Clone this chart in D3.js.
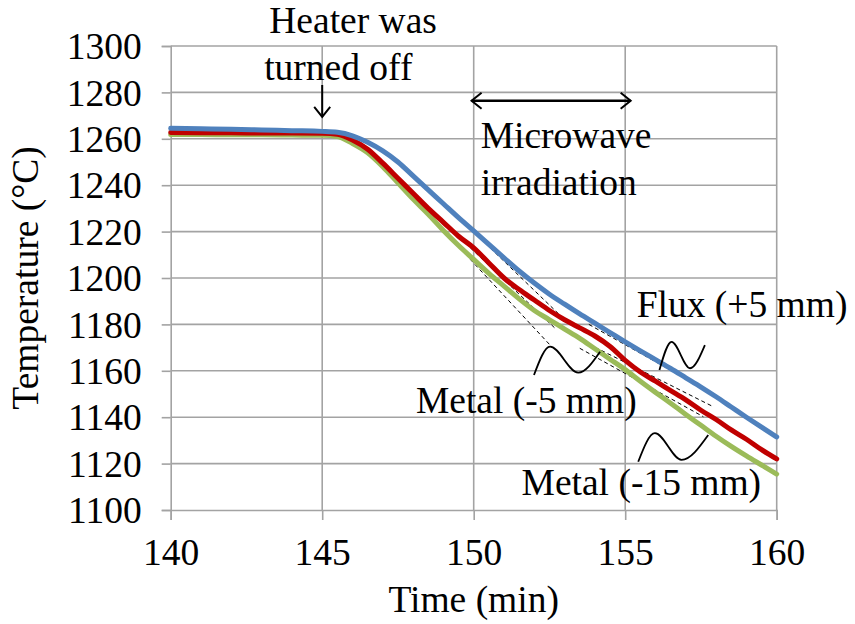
<!DOCTYPE html>
<html>
<head>
<meta charset="utf-8">
<script src="https://cdn.jsdelivr.net/npm/d3@7"></script>
<style>
  body { margin: 0; background: #ffffff; }
  text { font-family: "Liberation Serif", "Times New Roman", Times, serif; fill: #000; }
</style>
</head>
<body>
<svg id="chart" width="855" height="624"></svg>
<script>
// Time axis (min)
const times = [140, 141, 142, 143, 144, 145,
  145.5, 146, 146.5, 147, 147.5, 148, 148.5, 149, 149.5, 150,
  150.5, 151, 151.5, 152, 152.5, 153, 153.5, 154, 154.5, 155,
  155.5, 156, 156.5, 157, 157.5, 158, 158.5, 159, 159.5, 160];

// Temperature (°C) at each thermocouple position
const fluxPlus5 = [1264.5, 1264.3, 1264.1, 1263.8, 1263.5, 1263.2,
  1262.8, 1261.3, 1258.5, 1254.8, 1250.0, 1244.0, 1238.0, 1232.0, 1226.0, 1220.3,
  1214.5, 1208.7, 1203.0, 1197.8, 1193.0, 1188.7, 1184.5, 1180.5, 1176.5, 1172.5,
  1168.6, 1164.8, 1161.0, 1157.0, 1153.0, 1148.8, 1144.4, 1140.0, 1135.7, 1131.5];

const metalMinus5 = [1262.7, 1262.6, 1262.6, 1262.5, 1262.5, 1262.4,
  1262.0, 1259.5, 1255.5, 1249.5, 1243.0, 1236.5, 1230.0, 1224.0, 1218.0, 1213.0,
  1206.5, 1200.0, 1195.0, 1190.5, 1186.0, 1182.0, 1178.5, 1175.0, 1170.5, 1164.5,
  1159.5, 1155.5, 1151.5, 1147.5, 1143.0, 1139.0, 1134.5, 1130.5, 1126.0, 1122.0];

const metalMinus15 = [1261.8, 1261.8, 1261.7, 1261.7, 1261.6, 1261.5,
  1261.0, 1258.0, 1254.0, 1248.0, 1241.0, 1234.0, 1227.5, 1220.5, 1214.0, 1208.0,
  1202.0, 1196.5, 1191.0, 1186.0, 1182.0, 1178.0, 1174.0, 1169.5, 1165.0, 1160.5,
  1155.5, 1150.7, 1146.0, 1141.2, 1136.5, 1131.8, 1127.4, 1123.3, 1119.4, 1115.5];

const xTicks = [140, 145, 150, 155, 160];
const yTicks = [1100, 1120, 1140, 1160, 1180, 1200, 1220, 1240, 1260, 1280, 1300];

// Cooling-rate guide lines (dashed), [time, temperature] pairs
const guideLines = [
  [[149.38, 1227.6], [152.91, 1183.2]],
  [[149.05, 1223.4], [152.68, 1178.4]],
  [[148.94, 1221.3], [152.52, 1171.1]],
  [[153.80, 1180.0], [157.96, 1149.6]],
  [[153.80, 1171.5], [157.91, 1144.5]],
  [[153.50, 1169.7], [157.58, 1140.2]]
];

// Wavy leader marks: start, crest, trough, end
const leaders = [
  [[151.99, 1158.2], [152.52, 1170.4], [153.45, 1159.2], [154.17, 1168.2]],
  [[156.13, 1160.3], [156.53, 1172.5], [157.14, 1161.1], [157.63, 1171.1]],
  [[155.43, 1120.8], [155.98, 1133.1], [156.86, 1121.6], [157.74, 1132.3]]
];

const heaterArrow = [[145, 1283.2], [145, 1269.4]];
const irradiationSpan = [[149.93, 1276.4], [155.18, 1276.4]];

const labels = [
  { text: "Heater was", t: 146.02, T: 1305.6, anchor: "middle" },
  { text: "turned off", t: 145.53, T: 1285.3, anchor: "middle" },
  { text: "Microwave", t: 150.23, T: 1255.9, anchor: "start" },
  { text: "irradiation", t: 150.23, T: 1235.6, anchor: "start" },
  { text: "Flux (+5 mm)", t: 155.38, T: 1183.3, anchor: "start" },
  { text: "Metal (-5 mm)", t: 155.38, T: 1141.8, anchor: "end" },
  { text: "Metal (-15 mm)", t: 151.58, T: 1106.5, anchor: "start" }
];

const seriesList = [
  { name: "Metal (-15 mm)", values: metalMinus15, color: "#9bbb59" },
  { name: "Metal (-5 mm)", values: metalMinus5, color: "#c00000" },
  { name: "Flux (+5 mm)", values: fluxPlus5, color: "#4f81bd" }
];

const svg = d3.select("#chart");
const x = d3.scaleLinear().domain([140, 160]).range([170.7, 776.7]);
const y = d3.scaleLinear().domain([1100, 1300]).range([510, 46]);

const gridColor = "#a3a3a3";
const fontSize = 37.5;
const fontStack = "'Liberation Serif', 'Times New Roman', Times, serif";

// Gridlines
svg.append("g").selectAll("line").data(yTicks.filter(v => v > 1100)).join("line")
  .attr("x1", x(140)).attr("x2", x(160))
  .attr("y1", d => y(d)).attr("y2", d => y(d))
  .attr("stroke", gridColor).attr("stroke-width", 1.6);
svg.append("g").selectAll("line").data(xTicks.filter(v => v > 140)).join("line")
  .attr("x1", d => x(d)).attr("x2", d => x(d))
  .attr("y1", y(1300)).attr("y2", y(1100))
  .attr("stroke", gridColor).attr("stroke-width", 1.6);

// Axes
const xAxis = svg.append("g").attr("transform", `translate(0,${y(1100)})`)
  .call(d3.axisBottom(x).tickValues(xTicks).tickSize(10).tickPadding(18).tickFormat(d3.format("d")));
const yAxis = svg.append("g").attr("transform", `translate(${x(140)},0)`)
  .call(d3.axisLeft(y).tickValues(yTicks).tickSize(9).tickPadding(20).tickFormat(d3.format("d")));
[xAxis, yAxis].forEach(g => {
  g.attr("font-family", fontStack).attr("font-size", fontSize);
  g.select(".domain").attr("stroke", gridColor).attr("stroke-width", 1.6);
  g.selectAll(".tick line").attr("stroke", gridColor).attr("stroke-width", 1.6);
  g.selectAll(".tick text").attr("fill", "#000");
});
xAxis.selectAll(".tick text").attr("dy", "0.71em");
yAxis.selectAll(".tick text").attr("dy", "0.34em");

// Dashed guide lines
svg.append("g").selectAll("line").data(guideLines).join("line")
  .attr("x1", d => x(d[0][0])).attr("y1", d => y(d[0][1]))
  .attr("x2", d => x(d[1][0])).attr("y2", d => y(d[1][1]))
  .attr("stroke", "#000").attr("stroke-width", 1).attr("stroke-dasharray", "4,3");

// Temperature curves
const line = d3.line().x((d, i) => x(times[i])).y(d => y(d)).curve(d3.curveMonotoneX);
svg.append("g").selectAll("path").data(seriesList).join("path")
  .attr("d", d => line(d.values))
  .attr("fill", "none").attr("stroke", d => d.color)
  .attr("stroke-width", 5).attr("stroke-linejoin", "round").attr("stroke-linecap", "round");

// Wavy leaders
const leaderLine = d3.line().x(d => x(d[0])).y(d => y(d[1])).curve(d3.curveMonotoneX);
svg.append("g").selectAll("path").data(leaders).join("path")
  .attr("d", leaderLine).attr("fill", "none").attr("stroke", "#000").attr("stroke-width", 1.8);

// Arrows
function arrowHead(g, tip, dir) {
  // dir: unit vector pointing toward the tip
  const len = 10, half = 8;
  const bx = tip[0] - dir[0] * len, by = tip[1] - dir[1] * len;
  const px = -dir[1] * half, py = dir[0] * half;
  g.append("path")
    .attr("d", `M${bx + px},${by + py}L${tip[0]},${tip[1]}L${bx - px},${by - py}`)
    .attr("fill", "none").attr("stroke", "#000").attr("stroke-width", 2);
}
const arrows = svg.append("g");
const ha0 = [x(heaterArrow[0][0]), y(heaterArrow[0][1])];
const ha1 = [x(heaterArrow[1][0]), y(heaterArrow[1][1])];
arrows.append("line").attr("x1", ha0[0]).attr("y1", ha0[1]).attr("x2", ha1[0]).attr("y2", ha1[1])
  .attr("stroke", "#000").attr("stroke-width", 2);
arrowHead(arrows, ha1, [0, 1]);

const ia0 = [x(irradiationSpan[0][0]), y(irradiationSpan[0][1])];
const ia1 = [x(irradiationSpan[1][0]), y(irradiationSpan[1][1])];
arrows.append("line").attr("x1", ia0[0]).attr("y1", ia0[1]).attr("x2", ia1[0]).attr("y2", ia1[1])
  .attr("stroke", "#000").attr("stroke-width", 2.5);
arrowHead(arrows, ia0, [-1, 0]);
arrowHead(arrows, ia1, [1, 0]);

// Annotation text
svg.append("g").attr("font-family", fontStack).selectAll("text").data(labels).join("text")
  .attr("x", d => x(d.t)).attr("y", d => y(d.T))
  .attr("text-anchor", d => d.anchor).attr("font-size", fontSize)
  .text(d => d.text);

// Axis titles
svg.append("text").attr("x", (x(140) + x(160)) / 2).attr("y", 612)
  .attr("font-family", fontStack)
  .attr("text-anchor", "middle").attr("font-size", fontSize).text("Time (min)");
svg.append("text")
  .attr("transform", `translate(38,${(y(1100) + y(1300)) / 2}) rotate(-90)`)
  .attr("font-family", fontStack)
  .attr("text-anchor", "middle").attr("font-size", fontSize).text("Temperature (°C)");
</script>
</body>
</html>
